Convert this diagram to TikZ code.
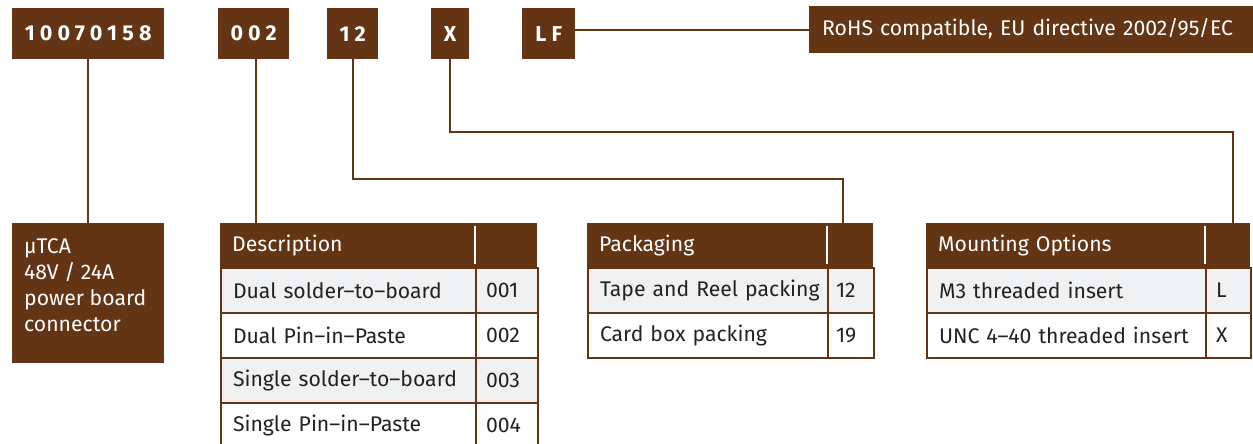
\documentclass[tikz,border=0pt]{standalone}
\usepackage{fontspec}
\setmainfont{Fira Sans}
\newfontfamily\codefont[LetterSpace=24]{Fira Sans}
\definecolor{brn}{HTML}{633515}
\definecolor{rowgray}{HTML}{F0F1F3}
\definecolor{txt}{HTML}{222222}
\begin{document}
\begin{tikzpicture}[x=1pt,y=-1pt,
  font=\fontsize{21.2}{26.4}\selectfont,
  code/.style={fill=brn, text=white, anchor=north west, inner sep=0pt, minimum height=51pt, font=\codefont\bfseries\fontsize{21.5}{24}\selectfont},
  link/.style={draw=brn, line width=2pt},
  oneline/.style={execute at begin node={\hbox\bgroup}, execute at end node={\egroup}},
  hdr/.style={fill=brn, text=white, anchor=north west, inner xsep=12pt, inner ysep=0pt, minimum height=44pt, align=left, oneline},
  rowcell/.style={draw=brn, line width=2pt, anchor=north west, inner ysep=0pt, minimum height=45pt, text=txt, align=left, oneline},
  gray/.style={fill=rowgray},
  wht/.style={fill=white},
  hsep/.style={draw=white, line width=1.2pt}
]
\useasboundingbox (0,0) rectangle (1253,444);

% code boxes
\node[code, minimum width=152pt] (c1) at (12,8) {10070158};
\node[code, minimum width=71pt] (c2) at (218,8) {002};
\node[code, minimum width=51pt] (c3) at (327,8) {12};
\node[code, minimum width=38pt] (c4) at (431,8) {X};
\node[code, minimum width=53pt] (c5) at (522,8) {LF};
\node[fill=brn, text=white, anchor=north west, inner xsep=13pt, inner ysep=0pt, minimum height=47pt, text width=420pt, align=left, oneline] (rohs) at (809,6) {RoHS compatible, EU directive 2002/95/EC};

% product box
\node[fill=brn, anchor=north west, minimum width=152pt, minimum height=140pt, inner sep=0pt] (tca) at (12,223) {};
\node[text=white, anchor=north west, inner sep=0pt, align=left, font=\fontsize{21.2}{26}\selectfont] (tcatext) at (24,238) {µTCA\\48V / 24A\\power board\\connector};

% description table
\node[hdr, text width=293pt] (dhdr) at (220,223) {Description};
\draw[hsep] (475,226) -- (475,264);
\node[rowcell, gray, inner xsep=12pt, text width=231pt] (d1) at (220,267) {Dual solder–to–board};
\node[rowcell, gray, inner xsep=10pt, text width=42pt] (d1c) at (475,267) {001};
\node[rowcell, wht, inner xsep=12pt, text width=231pt] (d2) at (220,312) {Dual Pin–in–Paste};
\node[rowcell, wht, inner xsep=10pt, text width=42pt] (d2c) at (475,312) {002};
\node[rowcell, gray, inner xsep=12pt, text width=231pt] (d3) at (220,357) {Single solder–to–board};
\node[rowcell, gray, inner xsep=10pt, text width=42pt] (d3c) at (475,357) {003};
\node[rowcell, wht, inner xsep=12pt, text width=231pt] (d4) at (220,402) {Single Pin–in–Paste};
\node[rowcell, wht, inner xsep=10pt, text width=42pt] (d4c) at (475,402) {004};

% packaging table
\node[hdr, text width=262pt] (phdr) at (587,223) {Packaging};
\draw[hsep] (827,226) -- (827,264);
\node[rowcell, gray, inner xsep=12pt, text width=216pt] (p1) at (587,267) {Tape and Reel packing};
\node[rowcell, gray, inner xsep=8pt, text width=30pt] (p1c) at (827,267) {12};
\node[rowcell, wht, inner xsep=12pt, text width=216pt] (p2) at (587,312) {Card box packing};
\node[rowcell, wht, inner xsep=8pt, text width=30pt] (p2c) at (827,312) {19};

% mounting table
\node[hdr, text width=300pt] (mhdr) at (926,223) {Mounting Options};
\draw[hsep] (1205,226) -- (1205,264);
\node[rowcell, gray, inner xsep=12pt, text width=255pt] (m1) at (926,267) {M3 threaded insert};
\node[rowcell, gray, inner xsep=10pt, text width=25pt] (m1c) at (1205,267) {L};
\node[rowcell, wht, inner xsep=12pt, text width=255pt] (m2) at (926,312) {UNC 4–40 threaded insert};
\node[rowcell, wht, inner xsep=10pt, text width=25pt] (m2c) at (1205,312) {X};

% connectors
\coordinate (j12) at (843,223);
\coordinate (jX) at (1233,223);
\draw[link] (c1.south) -- (tca.north);
\draw[link] (c2.south -| 256,0) -- (256,223);
\draw[link] (c3.south) -- ++(0,120) -| (j12);
\draw[link] (c4.south) -- ++(0,73) -| (jX);
\draw[link] (rohs.west) -- (rohs.west -| c5.east);
\end{tikzpicture}
\end{document}
